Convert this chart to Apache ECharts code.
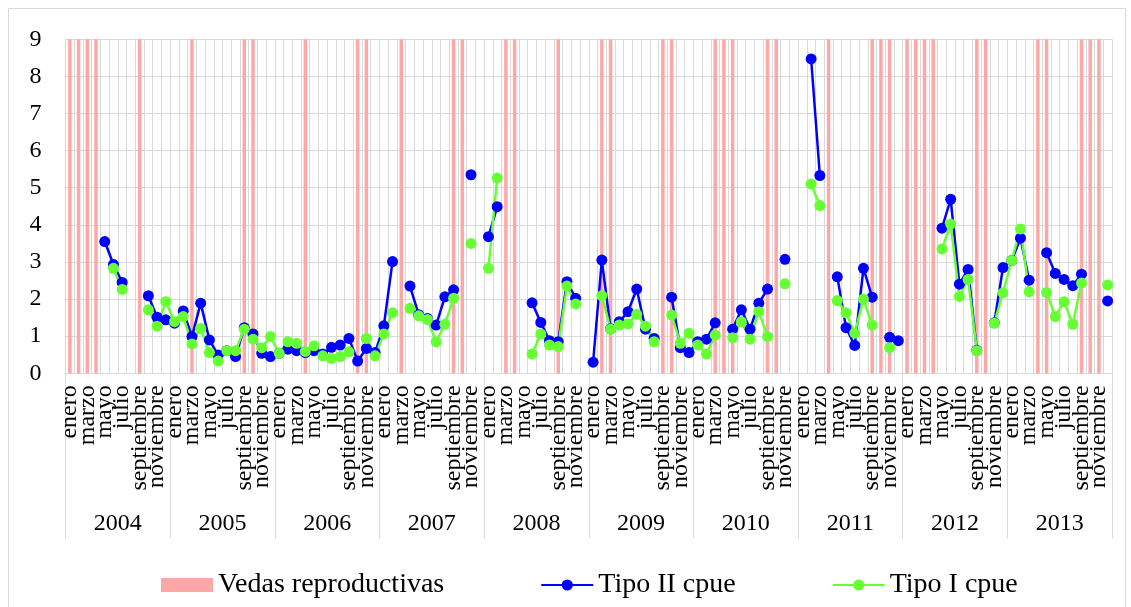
<!DOCTYPE html>
<html><head><meta charset="utf-8">
<script src="https://cdn.jsdelivr.net/npm/echarts@6/dist/echarts.min.js"></script>
<style>html,body{margin:0;padding:0;background:#fff}#c{width:1131px;height:607px}</style>
</head><body><div id="c"></div>
<script>
// ---- data ----
const years = ['2004','2005','2006','2007','2008','2009','2010','2011','2012','2013'];
const monthNames = ['enero','febrero','marzo','abril','mayo','junio','julio','agosto','septiembre','octubre','noviembre','diciembre'];
// month indices (0 = enero 2004) with reproductive closure
const vedaMonths = [0,1,2,3,8,14,20,21,27,33,34,38,44,45,50,51,56,61,62,68,69,74,75,76,80,81,87,92,93,94,96,97,98,99,104,105,111,112,116,117,118];
const vedaValue = 9;
const tipoII = [
 null,null,null,null,3.55,2.93,2.45,null,null,2.09,
 1.51,1.44,1.35,1.68,0.99,1.89,0.90,0.49,0.61,0.45,
 1.23,1.06,0.54,0.45,0.54,0.65,0.61,0.56,0.61,0.52,
 0.70,0.76,0.94,0.33,0.67,0.56,1.28,3.01,null,2.35,
 1.58,1.48,1.30,2.06,2.25,null,5.35,null,3.68,4.49,
 null,null,null,1.90,1.37,0.88,0.85,2.47,2.02,null,
 0.30,3.05,1.20,1.39,1.66,2.27,1.19,0.94,null,2.05,
 0.69,0.56,0.85,0.92,1.36,null,1.19,1.71,1.19,1.89,
 2.27,null,3.07,null,null,8.47,5.33,null,2.60,1.23,
 0.75,2.83,2.05,null,0.97,0.88,null,null,null,null,
 3.91,4.69,2.40,2.80,0.62,null,1.36,2.85,3.04,3.64,
 2.51,null,3.25,2.69,2.53,2.36,2.67,null,null,1.95
];
const tipoI = [
 null,null,null,null,null,2.83,2.26,null,null,1.71,
 1.27,1.93,1.39,1.53,0.79,1.21,0.56,0.33,0.61,0.61,
 1.19,0.92,0.69,0.99,0.54,0.85,0.81,0.59,0.74,0.47,
 0.40,0.45,0.58,null,0.94,0.47,1.06,1.63,null,1.75,
 1.55,1.45,0.85,1.32,2.02,null,3.50,null,2.83,5.26,
 null,null,null,0.52,1.06,0.76,0.72,2.35,1.87,null,
 null,2.09,1.19,1.30,1.33,1.59,1.27,0.85,null,1.57,
 0.81,1.08,0.76,0.52,1.03,null,0.96,1.39,0.92,1.66,
 0.99,null,2.41,null,null,5.10,4.52,null,1.96,1.63,
 1.08,2.00,1.30,null,0.69,null,null,null,null,null,
 3.35,4.02,2.07,2.53,0.61,null,1.35,2.17,3.04,3.89,
 2.20,null,2.18,1.53,1.93,1.32,2.43,null,null,2.38
];
const yTicks = [0,1,2,3,4,5,6,7,8,9];

// ---- build ----
const months = years.flatMap(() => monthNames);
const vedaData = months.map((_, i) => vedaMonths.includes(i) ? vedaValue : null);
const FONT = 'Liberation Serif';
const GRID = '#D9D9D9';

const chart = echarts.init(document.getElementById('c'), null, {renderer:'canvas'});
chart.setOption({
  animation: false,
  backgroundColor: '#fff',
  graphic: [{type:'rect', shape:{x:8.5,y:8.5,width:1117,height:605}, style:{fill:'none', stroke:GRID, lineWidth:1}, silent:true, z:-10}],
  grid: {left:65.5, right:19, top:39.3, bottom:233.7, containLabel:false},
  legend: {
    left:156, top:566, itemWidth:52, itemHeight:14, itemGap:96,
    textStyle:{fontFamily:FONT, fontSize:28, color:'#000'},
    data:[{name:'Vedas reproductivas', icon:'rect'}, {name:'Tipo II cpue'}, {name:'Tipo I cpue'}]
  },
  xAxis: [
    {
      type:'category', data:months, boundaryGap:true, position:'bottom',
      axisLine:{show:true, lineStyle:{color:GRID, width:1}},
      axisTick:{show:false},
      axisLabel:{interval:0, showMinLabel:true, showMaxLabel:true, rotate:90, margin:12,
        fontFamily:FONT, fontSize:24, color:'#000', hideOverlap:false,
        formatter:(v, i) => (i % 2 === 0 ? v : '')},
      splitLine:{show:true, interval:0, lineStyle:{color:GRID, width:1}}
    },
    {
      type:'category', data:years, boundaryGap:true, position:'bottom',
      axisLine:{show:false},
      axisTick:{show:true, interval:0, length:165, lineStyle:{color:GRID, width:1}},
      axisLabel:{interval:0, showMinLabel:true, showMaxLabel:true, margin:138, fontFamily:FONT, fontSize:24, color:'#000'},
      splitLine:{show:false}
    }
  ],
  yAxis: {
    type:'value', min:yTicks[0], max:yTicks[yTicks.length-1], interval:1,
    axisLine:{show:false}, axisTick:{show:false},
    axisLabel:{margin:24, fontFamily:FONT, fontSize:24, color:'#000'},
    splitLine:{show:true, lineStyle:{color:GRID, width:1}}
  },
  series: [
    {name:'Vedas reproductivas', type:'bar', xAxisIndex:0, data:vedaData, barWidth:3.5,
     itemStyle:{color:'#FFA6A6'}, silent:true},
    {name:'Tipo II cpue', type:'line', xAxisIndex:0, data:tipoII, connectNulls:false,
     symbol:'circle', symbolSize:11, showAllSymbol:true,
     lineStyle:{color:'#0000FF', width:2.5}, itemStyle:{color:'#0000FF'}},
    {name:'Tipo I cpue', type:'line', xAxisIndex:0, data:tipoI, connectNulls:false,
     symbol:'circle', symbolSize:11, showAllSymbol:true,
     lineStyle:{color:'#66FF33', width:2.5}, itemStyle:{color:'#66FF33'}}
  ]
});
</script>
</body></html>
